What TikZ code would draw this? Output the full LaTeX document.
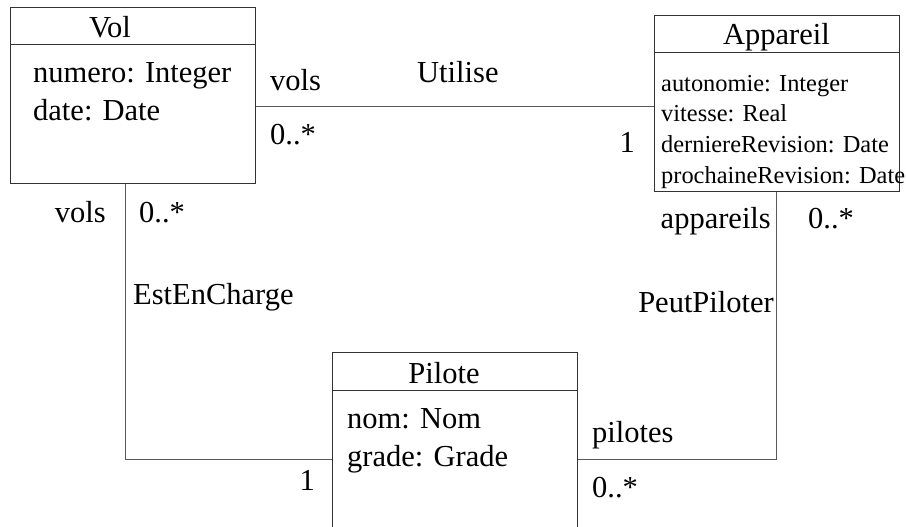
\documentclass[tikz,border=0pt]{standalone}
\usepackage{fontspec}
\setmainfont{Liberation Serif}
\usetikzlibrary{positioning}

\begin{document}
\begin{tikzpicture}[
  x=1pt, y=-1pt,
  cls/.style={draw=black!80, line width=1pt, anchor=north west, minimum width=245pt, inner sep=0pt},
  sep/.style={draw=black!80, line width=1pt},
  txt/.style={inner sep=0pt, anchor=base west, font=\fontsize{30.5}{36}\selectfont},
  rtxt/.style={txt, anchor=base east},
  ttl/.style={txt, anchor=base},
  small/.style={txt, font=\fontsize{24.4}{29}\selectfont},
  assoc/.style={draw=black!65, line width=1pt}
]
\clip (0,0) rectangle (906,527);
\fill[white] (0,0) rectangle (906,527);

% classes
\node[cls, minimum height=176pt] (vol) at (10,7) {};
\node[cls, minimum height=176pt] (app) at (654,15) {};
\node[cls, minimum height=200pt] (pil) at (332,352) {};
\draw[sep] ([yshift=-38pt]vol.north west) -- ([yshift=-38pt]vol.north east);
\draw[sep] ([yshift=-38pt]app.north west) -- ([yshift=-38pt]app.north east);
\draw[sep] ([yshift=-38.5pt]pil.north west) -- ([yshift=-38.5pt]pil.north east);

\node[ttl] (volT) at (110,37.5) {Vol};
\node[txt] (volA) at (33,83) {numero: Integer};
\node[txt] (volB) at (33,121) {date: Date};

\node[ttl] (appT) at (776.5,45) {Appareil};
\node[small] (appA) at (661,91.5) {autonomie: Integer};
\node[small] (appB) at (661,121.7) {vitesse: Real};
\node[small] (appC) at (661,152.5) {derniereRevision: Date};
\node[small] (appD) at (661,183) {prochaineRevision: Date};

\node[ttl] (pilT) at (444,383) {Pilote};
\node[txt] (pilA) at (347,428.5) {nom: Nom};
\node[txt] (pilB) at (347,466.5) {grade: Grade};

% associations
\coordinate (u) at (0,107);
\coordinate (l) at (125,459.5);
\coordinate (r) at (776.5,459.5);
\draw[assoc] (vol.east |- u) -- (app.west |- u);
\draw[assoc] (l |- vol.south) -- (l) -- (pil.west |- l);
\draw[assoc] (r |- app.south) -- (r) -- (pil.east |- r);

\node[txt] (uN) at (417,83) {Utilise};
\node[txt] (uR) at (270,91) {vols};
\node[txt] (uM1) at (270,144) {0..*};
\node[rtxt] (uM2) at (635,153) {1};

\node[rtxt] (eR) at (106,222) {vols};
\node[txt] (eM1) at (139,222) {0..*};
\node[txt] (eN) at (133,304) {EstEnCharge};
\node[rtxt] (eM2) at (315,490) {1};

\node[rtxt] (pR1) at (771,228.5) {appareils};
\node[txt] (pM1) at (808,228.5) {0..*};
\node[rtxt] (pN) at (774,312.5) {PeutPiloter};
\node[txt] (pR2) at (592,442) {pilotes};
\node[txt] (pM2) at (592,497) {0..*};
\end{tikzpicture}
\end{document}
